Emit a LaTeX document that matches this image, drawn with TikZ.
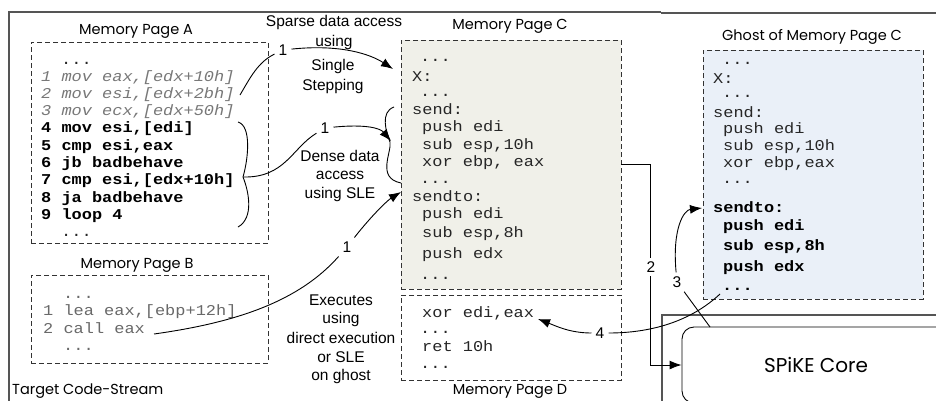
\documentclass[tikz,border=0pt]{standalone}
\usepackage{fontspec}
\setmainfont{Liberation Sans}
\newfontfamily\codefont[FakeStretch=1.13]{Liberation Mono}
\newfontfamily\ttlfont{Poppins}
\usetikzlibrary{arrows.meta}
\definecolor{framegray}{RGB}{85,85,85}
\definecolor{fillC}{RGB}{240,240,233}
\definecolor{fillG}{RGB}{234,240,248}
\definecolor{codegray}{RGB}{105,105,105}
\definecolor{codeital}{RGB}{120,120,120}
\newcommand\cf{\codefont\fontsize{15}{15}\selectfont}
\begin{document}
\begin{tikzpicture}[x=1pt,y=-1pt,
  code/.style={font=\cf, inner sep=0pt, anchor=base west, text=black!85},
  codeg/.style={code, text=codegray},
  codei/.style={code, text=codeital, font=\cf\itshape},
  codeb/.style={code, text=black, font=\cf\bfseries},
  lbl/.style={font=\fontsize{15.5}{16}\selectfont, inner sep=0pt},
  num/.style={font=\fontsize{15.5}{16}\selectfont, inner sep=4pt},
  numw/.style={num, fill=white},
  ttl/.style={font=\ttlfont\fontsize{14.5}{16}\selectfont, inner sep=0pt},
  pagebox/.style={draw=black!80, dash pattern=on 5pt off 3pt, line width=0.9pt, inner sep=0pt},
  frame/.style={draw=framegray, line width=1.1pt},
  conn/.style={line width=0.9pt},
  arr/.style={conn, -{Latex[length=12pt,width=9pt]}}]
\useasboundingbox (0,0) rectangle (936,400);
\fill[white] (0,0) rectangle (936,400);
\clip (0,0) rectangle (936,400);

% outer frames
\draw[frame] (9,410) -- (9,12) -- (661,12);
\draw[frame] (661,13) -- (940,13);
\draw[frame] (662,410) -- (662,315) -- (940,315);

% page boxes
\node[pagebox, minimum width=237pt, minimum height=201pt] (pageA) at (149.5,142.5) {};
\node[pagebox, minimum width=237pt, minimum height=88pt] (pageB) at (149.5,319) {};
\node[pagebox, fill=fillC, minimum width=220pt, minimum height=249pt] (pageC) at (511,164.5) {};
\node[pagebox, minimum width=220pt, minimum height=85pt] (pageD) at (511,337.5) {};
\node[pagebox, fill=fillG, minimum width=220pt, minimum height=249pt] (pageG) at (813,174.5) {};

% titles
\node[ttl] (tA) at (136,31) {Memory Page A};
\node[ttl] (tB) at (137,265) {Memory Page B};
\node[ttl] (tC) at (510,26) {Memory Page C};
\node[ttl] (tD) at (510,391) {Memory Page D};
\node[ttl] (tG) at (812,37) {Ghost of Memory Page C};
\node[ttl, anchor=west] (tT) at (12,391) {Target Code-Stream};

% core
\node[draw=black, line width=0.9pt, rounded corners=12pt, minimum width=268pt, minimum height=76pt,
      font=\ttlfont\fontsize{20}{22}\selectfont] (core) at (816,365) {SPiKE Core};

% page A code
\node[code] (a0) at (61,64) {...};
\node[codei] (a1) at (41,81) {1 mov eax,[edx+10h]};
\node[codei] (a2) at (41,98.3) {2 mov esi,[edx+2bh]};
\node[codei] (a3) at (41,115.6) {3 mov ecx,[edx+50h]};
\node[codeb] (a4) at (41,132.9) {4 mov esi,[edi]};
\node[codeb] (a5) at (41,150.2) {5 cmp esi,eax};
\node[codeb] (a6) at (41,167.5) {6 jb badbehave};
\node[codeb] (a7) at (41,184.8) {7 cmp esi,[edx+10h]};
\node[codeb] (a8) at (41,202.1) {8 ja badbehave};
\node[codeb] (a9) at (41,219.4) {9 loop 4};
\node[code] (a10) at (61,236) {...};

% page B code
\node[codeg] (b0) at (63,298) {...};
\node[codeg] (b1) at (43,315.5) {1 lea eax,[ebp+12h]};
\node[codeg] (b2) at (43,333) {2 call eax};
\node[codeg] (b3) at (63,350) {...};

% page C code
\node[code] (c0) at (420,61) {...};
\node[code] (c1) at (412,81) {X:};
\node[code] (c2) at (420,96) {...};
\node[code] (c3) at (412,114) {send:};
\node[code] (c4) at (422,131) {push edi};
\node[code] (c5) at (422,149) {sub esp,10h};
\node[code] (c6) at (422,166) {xor ebp, eax};
\node[code] (c7) at (420,183) {...};
\node[code] (c8) at (412,201) {sendto:};
\node[code] (c9) at (422,218) {push edi};
\node[code] (c10) at (422,237) {sub esp,8h};
\node[code] (c11) at (422,258) {push edx};
\node[code] (c12) at (420,279) {...};

% page D code
\node[code] (d0) at (422,317) {xor edi,eax};
\node[code] (d1) at (420,333) {...};
\node[code] (d2) at (422,351) {ret 10h};
\node[code] (d3) at (420,368) {...};

% ghost code
\node[code] (g0) at (722,64) {...};
\node[code] (g1) at (713,83) {X:};
\node[code] (g2) at (722,97) {...};
\node[code] (g3) at (713,117) {send:};
\node[code] (g4) at (723,133) {push edi};
\node[code] (g5) at (723,150) {sub esp,10h};
\node[code] (g6) at (723,167) {xor ebp,eax};
\node[code] (g7) at (722,183) {...};
\node[codeb] (g8) at (713,212) {sendto:};
\node[codeb] (g9) at (723,230) {push edi};
\node[codeb] (g10) at (723,250) {sub esp,8h};
\node[codeb] (g11) at (723,271) {push edx};
\node[codeb] (g12) at (722,290) {...};

% labels
\node[lbl] (s1) at (334,22) {Sparse data access};
\node[lbl] (s2) at (334,42) {using};
\node[lbl] (s3) at (333,66) {Single};
\node[lbl] (s4) at (333,86) {Stepping};
\node[lbl] (e1) at (340,156) {Dense data};
\node[lbl] (e2) at (340,175) {access};
\node[lbl] (e3) at (340,194) {using SLE};
\node[lbl] (x1) at (341,300) {Executes};
\node[lbl] (x2) at (341,319) {using};
\node[lbl] (x3) at (341,338) {direct execution};
\node[lbl] (x4) at (341,357) {or SLE};
\node[lbl] (x5) at (341,376) {on ghost};

% connector label numbers
\node[num] (sp1) at (283,50) {1};
\node[num] (dn1) at (325,128) {1};
\node[num] (ex1) at (347,247) {1};
\node[num] (n3) at (677,282) {3};
\node[num] (n4) at (600,333) {4};

% coordinates
\coordinate (sA) at (240,95);
\coordinate (sEnd) at (393,69);
\coordinate (dA1) at (238,122);
\coordinate (dA2) at (243,177);
\coordinate (dA3) at (238,227);
\coordinate (dEnd) at (391,141);
\coordinate (bC1) at (394,107);
\coordinate (bC2) at (390,142);
\coordinate (bC3) at (401,183);
\coordinate (xS) at (154,334);
\coordinate (xEnd) at (401,192);
\coordinate (t2) at (621,164);
\coordinate (c3s) at (710,327);
\coordinate (g3e) at (702,208);
\coordinate (g4s) at (720,294);
\coordinate (d4e) at (538,319);

% sparse
\draw[conn] (sA) .. controls (250,78) and (258,62) .. (sp1);
\draw[arr] (sp1) .. controls (340,44) and (370,54) .. (sEnd);
% dense
\draw[conn] (dA1) .. controls (252,126) and (248,160) .. (dA2) .. controls (249,192) and (254,218) .. (dA3);
\draw[conn] (dA2) .. controls (285,178) and (292,148) .. (dn1);
\draw[arr] (dn1) .. controls (365,124) and (380,128) .. (dEnd);
\draw[conn] (bC1) .. controls (380,112) and (386,132) .. (bC2) .. controls (392,152) and (376,178) .. (bC3);
% executes
\draw[conn] (xS) .. controls (240,322) and (300,300) .. (ex1);
\draw[arr] (ex1) .. controls (372,215) and (388,200) .. (xEnd);
% 2
\draw[arr] (t2) -- ++(29,0) |- (core.west);
\node[numw] (n2) at (651,267) {2};
% 3
\draw[conn] (c3s) -- (n3);
\draw[arr] (n3) .. controls (672,228) and (684,210) .. (g3e);
% 4
\draw[conn] (g4s) .. controls (690,322) and (650,333) .. (n4);
\draw[arr] (n4) .. controls (570,333) and (556,326) .. (d4e);
\end{tikzpicture}
\end{document}
